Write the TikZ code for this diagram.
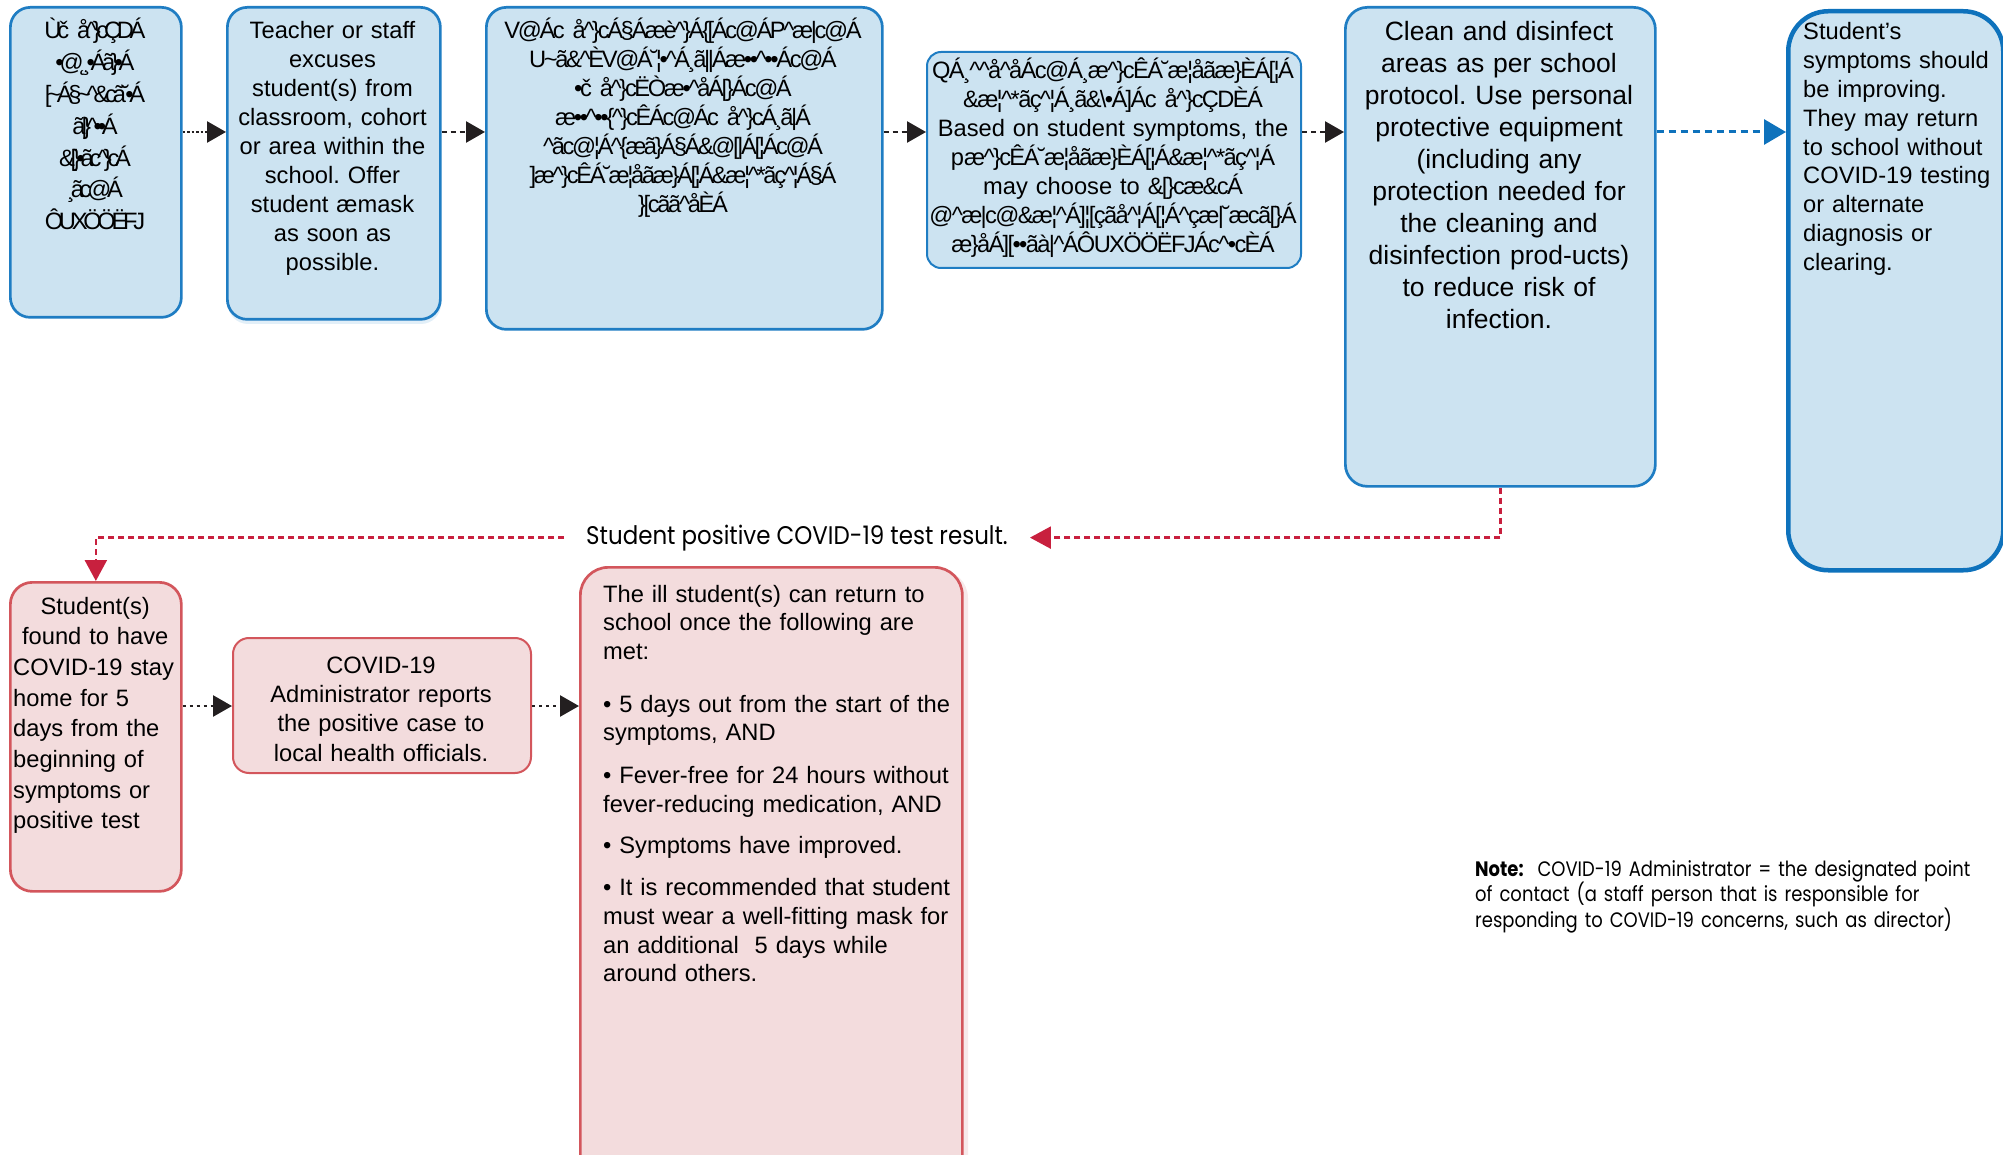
\documentclass[tikz,border=0pt]{standalone}
\usepackage{fontspec}
\setmainfont{Liberation Sans}
\newfontfamily\futura[FakeStretch=0.86]{Poppins}
\newfontfamily\futlbl[FakeStretch=0.9]{Poppins}
\newfontfamily\garbA[LetterSpace=-18]{Liberation Sans}
\newfontfamily\garbB[LetterSpace=-10]{Liberation Sans}
\newfontfamily\garbC[LetterSpace=-7]{Liberation Sans}
\usetikzlibrary{arrows.meta}
\definecolor{bfill}{HTML}{CCE3F1}
\definecolor{bshadow}{HTML}{E2EFF8}
\definecolor{bdraw}{HTML}{1F7DC3}
\definecolor{bdark}{HTML}{0E72BC}
\definecolor{pfill}{HTML}{F3DCDD}
\definecolor{pshadow}{HTML}{F7E9EA}
\definecolor{pdraw}{HTML}{D3565C}
\definecolor{redarr}{HTML}{C8203E}
\definecolor{blkarr}{HTML}{231F20}
\newcommand{\ca}{\textasciicircum}
\frenchspacing
\begin{document}
\begin{tikzpicture}[x=1pt,y=-1pt,
  bluebox/.style={draw=bdraw, fill=bfill, line width=2.7pt, rounded corners=20pt, anchor=north west, inner sep=0pt},
  pinkbox/.style={draw=pdraw, fill=pfill, line width=2.7pt, rounded corners=22pt, anchor=north west, inner sep=0pt},
  txt/.style={inner sep=0pt, text=black, font=\fontsize{23.7}{28.9}\selectfont},
  blkarrow/.style={draw=blkarr, line width=2.5pt, dash pattern=on 5pt off 4pt, -{Triangle[length=19pt,width=21pt]}},
  bluearrow/.style={draw=bdark, line width=3pt, dash pattern=on 7pt off 5pt, -{Triangle[length=22pt,width=25pt]}},
  redarrow/.style={draw=redarr, line width=2.5pt, dash pattern=on 6pt off 4pt, -{Triangle[length=21pt,width=22pt]}}
]
\useasboundingbox (0,0) rectangle (2003,1155);
\clip (0,0) rectangle (2003,1155);

% ---- top row boxes ----
\node[bluebox, minimum width=171pt, minimum height=310pt] (b1) at (9,6) {};
\fill[bshadow, rounded corners=20pt] (228,20) rectangle (441,324);
\node[bluebox, minimum width=213pt, minimum height=312pt] (b2) at (226,6) {};
\node[bluebox, minimum width=396pt, minimum height=322pt] (b3) at (485,6) {};
\node[bluebox, line width=2pt, rounded corners=14pt, minimum width=374pt, minimum height=216pt] (b4) at (926,51) {};
\node[bluebox, rounded corners=22pt, minimum width=310pt, minimum height=479pt] (b5) at (1344,6) {};
\node[bluebox, draw=bdark, line width=4.5pt, rounded corners=40pt, minimum width=215pt, minimum height=559pt] (b6) at (1786,9) {};

% ---- bottom row boxes ----
\node[pinkbox, minimum width=171pt, minimum height=309pt] (b7) at (9,581) {};
\node[pinkbox, line width=2pt, rounded corners=16pt, minimum width=298pt, minimum height=135pt] (b8) at (232,637) {};
\fill[pshadow, rounded corners=28pt] (585,570) rectangle (968,1190);
\node[pinkbox, rounded corners=28pt, minimum width=382pt, minimum height=620pt] (b9) at (579,566) {};

% ---- texts ----
\node[txt, text width=220pt, align=center, anchor=base, font=\garbA\fontsize{23.7}{31.8}\selectfont] (t1) at (95,39) {%
Ùč å\ca\}cÇDÁ\\
•@˛¸•Áã\}•Á\\\relax
[\textasciitilde Á§\textasciitilde\ca\&cã˘•Á\\
ã|\}\ca••Á\\
\&[\}•ãc\ca\}cÁ\\
¸ãc@Á\\
ÔUXÖÖËFJ};

\node[txt, text width=210pt, align=center, anchor=base] (t2) at (332.5,39) {%
Teacher or staff\\ excuses\\ student(s) from\\ classroom, cohort\\ or area within the\\ school. Offer\\ student æmask\\ as soon as\\ possible.};

\node[txt, text width=460pt, align=center, anchor=base, font=\garbB\fontsize{23.7}{28.9}\selectfont] (t3) at (683,39) {%
V@Ác å\ca\}cÁ§Áæè\ca\}Á\{[Ác@ÁP\ca{}æ|c@Á\\
U\textasciitilde ã\&\ca{}ÈV@Á˘¦•\ca{}Á¸ã||Áæ••\ca••Ác@Á\\
•č å\ca\}cËÒæ•\ca{}åÁ[\}Ác@Á\\
æ••\ca••\{\ca\}cÊÁc@Ác å\ca\}cÁ¸ã|Á\\
\ca{}ãc@¦Á\ca\{æã\}Á§Á\&@[|Á[¦Ác@Á\\
]æ\ca\}cÊÁ˘æ¦åãæ\}Á[¦Á\&æ¦\ca*ãç\ca¦Á§Á\\
\}[cãã\ca{}åÈÁ};

\node[txt, text width=460pt, align=center, anchor=base] (t4) at (1113,79) {%
{\garbC QÁ¸\ca\ca{}å\ca{}åÁc@Á¸æ\ca\}cÊÁ˘æ¦åãæ\}ÈÁ[¦Á}\\
{\garbC \&æ¦\ca*ãç\ca¦Á¸ã\&\textbackslash•Á]Ác å\ca\}cÇDÈÁ}\\
Based on student symptoms, the\\
p{\garbC æ\ca\}cÊÁ˘æ¦åãæ\}ÈÁ[¦Á\&æ¦\ca*ãç\ca¦Á}\\
may choose to {\garbC \&[\}cæ\&cÁ}\\
{\garbC @\ca{}æ|c@\&æ¦\ca{}Á]¦[çãå\ca¦Á[¦Á\ca{}çæ|˘æcã[\}Á}\\
{\garbC æ\}åÁ][••ãà|\ca{}ÁÔUXÖÖËFJÁc\ca•cÈÁ}};

\node[txt, text width=306pt, align=center, anchor=base, font=\fontsize{26.5}{32}\selectfont] (t5) at (1499,40.5) {%
Clean and disinfect\\ areas as per school\\ protocol. Use personal\\ protective equipment\\ (including any\\ protection needed for\\ the cleaning and\\ disinfection prod-ucts)\\ to reduce risk of\\ infection.};

\node[txt, text width=200pt, align=left, anchor=base west] (t6) at (1803,39.5) {%
Student\symbol{"0027}s\\ symptoms should\\ be improving.\\ They may return\\ to school without\\ COVID-19 testing\\ or alternate\\ diagnosis or\\ clearing.};

\node[txt, text width=164pt, align=left, anchor=base west, font=\fontsize{23.7}{30.7}\selectfont] (t7) at (13,614) {%
\makebox[\linewidth]{Student(s)}\\
\makebox[\linewidth]{found to have}\\
COVID-19 stay\\ home for 5\\ days from the\\ beginning of\\ symptoms or\\ positive test};

\node[txt, text width=294pt, align=center, anchor=base, font=\fontsize{23.7}{29.4}\selectfont] (t8) at (381,673) {%
COVID-19\\ Administrator reports\\ the positive case to\\ local health officials.};

\node[txt, text width=370pt, align=left, anchor=base west, font=\fontsize{23.7}{28.7}\selectfont] (t9) at (603,602) {%
\makebox[325pt][s]{The ill student(s) can return to}\\
\makebox[325pt][s]{school once the following are}\\
met:\\[24pt]
• 5 days out from the start of the\\
symptoms, AND\\[14pt]
• Fever-free for 24 hours without\\
fever-reducing medication, AND\\[13pt]
• Symptoms have improved.\\[13pt]
• It is recommended that student\\
must wear a well-fitting mask for\\
an additional\ \ 5 days while\\
around others.};

% ---- label on the red connector ----
\node[inner xsep=22pt, inner ysep=0pt, anchor=base, font=\futlbl\fontsize{25.5}{28}\selectfont] (lbl) at (797,544) {Student positive COVID-19 test result.};

% ---- note ----
\node[inner sep=0pt, text width=540pt, anchor=base west, align=left, font=\futura\fontsize{20.9}{25.5}\selectfont] (note) at (1475,876) {%
\textbf{Note:}\ \ COVID-19 Administrator = the designated point\\
of contact (a staff person that is responsible for\\
responding to COVID-19 concerns, such as director)};

% ---- connectors ----
\coordinate (r1) at (0,132);
\coordinate (r2) at (0,706);
\draw[blkarrow, dash pattern=on 2.5pt off 2pt] (b1.east |- r1) -- (b2.west |- r1);
\draw[blkarrow] (b2.east |- r1) -- (b3.west |- r1);
\draw[blkarrow] (b3.east |- r1) -- (b4.west |- r1);
\draw[blkarrow] (b4.east |- r1) -- (b5.west |- r1);
\draw[bluearrow] (b5.east |- r1) -- (b6.west |- r1);
\draw[redarrow] (b5.south) |- (lbl.east);
\draw[redarrow] (lbl.west) -| (b7.north);
\draw[blkarrow, dash pattern=on 3pt off 4pt] (b7.east |- r2) -- (b8.west |- r2);
\draw[blkarrow, dash pattern=on 3pt off 4pt] (b8.east |- r2) -- (b9.west |- r2);
\end{tikzpicture}
\end{document}
